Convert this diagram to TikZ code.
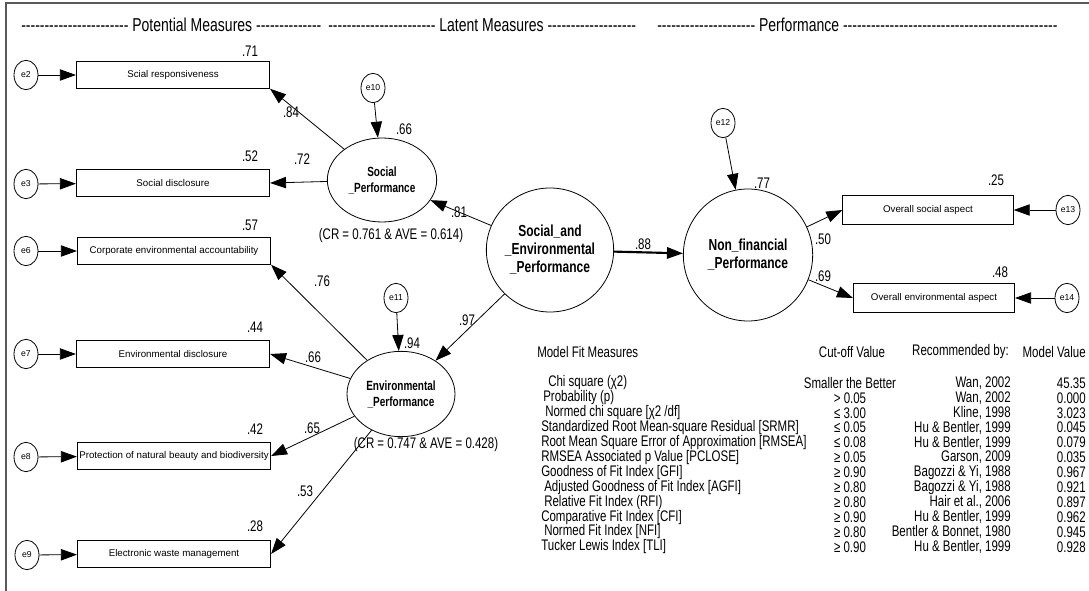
\documentclass[tikz,border=0pt]{standalone}
\usepackage{fontspec}
\setmainfont{Liberation Sans}
\newfontfamily\narrowfont[FakeStretch=0.75,Ligatures=TeXOff]{Liberation Sans}
\usepackage{tikz}
\usetikzlibrary{shapes.geometric, arrows.meta, positioning}
\definecolor{framegray}{rgb}{0.35,0.35,0.35}

\begin{document}
\begin{tikzpicture}[x=0.75pt, y=-0.75pt,
    errvar/.style={ellipse, draw, line width=0.6pt, minimum width=18pt, minimum height=22pt, inner sep=0pt, font=\fontsize{6.5}{7}\selectfont},
    indicator/.style={rectangle, draw, line width=0.6pt, minimum width=145pt, minimum height=20pt, inner sep=1pt, font=\fontsize{7.3}{9}\selectfont},
    latent/.style={ellipse, draw, line width=0.6pt, align=center, inner sep=0pt, font=\narrowfont\bfseries\fontsize{10}{12}\selectfont},
    biglatent/.style={latent, font=\narrowfont\bfseries\fontsize{12}{13.5}\selectfont},
    coef/.style={inner sep=0pt, font=\narrowfont\fontsize{11.5}{12}\selectfont},
    fittext/.style={inner sep=0pt, font=\narrowfont\fontsize{11.5}{12}\selectfont},
    headtext/.style={inner sep=0pt, anchor=west, font=\narrowfont\fontsize{14}{15}\selectfont},
    regpath/.style={-{Triangle[length=12pt,width=8.5pt]}, line width=0.6pt}]
    \useasboundingbox (0,0) rectangle (1089,591);
    % frame
    \draw[framegray, line width=1.5pt] (6,591) -- (6,3) -- (1089,3);
    % section headers
    \node[headtext] (hpot) at (21,25) {----------------------- Potential Measures --------------};
    \node[headtext] (hlat) at (328,25) {----------------------- Latent Measures -------------------};
    \node[headtext] (hperf) at (657,25) {--------------------- Performance ----------------------------------------------};
    % indicators with error terms
    \node[indicator] (sr) at (173,75) {Scial responsiveness};
    \node[indicator] (sd) at (173,183) {Social disclosure};
    \node[indicator] (cea) at (174,251) {Corporate environmental accountability};
    \node[indicator] (ed) at (173,354) {Environmental disclosure};
    \node[indicator] (pnb) at (174,456) {Protection of natural beauty and biodiversity};
    \node[indicator] (ewm) at (174,554) {Electronic waste management};
    \node[errvar] (e2) at (26,75) {e2};
    \node[errvar] (e3) at (26,184) {e3};
    \node[errvar] (e6) at (26,251) {e6};
    \node[errvar] (e7) at (26,354) {e7};
    \node[errvar] (e8) at (26,457) {e8};
    \node[errvar] (e9) at (27,555) {e9};
    \foreach \e/\m in {e2/sr, e3/sd, e6/cea, e7/ed, e8/pnb, e9/ewm}
        \draw[regpath] (\e) -- (\m);
    % latent constructs
    \node[latent, minimum width=82pt, minimum height=63pt] (sp) at (382,180) {Social\\\_Performance};
    \node[latent, minimum width=81pt, minimum height=64pt] (ep) at (401,394) {Environmental\\\_Performance};
    \node[biglatent, minimum width=93pt, minimum height=93pt] (sep) at (550,250) {Social\_and\\\_Environmental\\\_Performance};
    \node[biglatent, minimum width=97pt, minimum height=99pt] (nfp) at (748,255) {Non\_financial\\\_Performance};
    \node[errvar] (e10) at (373,88) {e10};
    \node[errvar] (e11) at (396,298) {e11};
    \node[errvar] (e12) at (723,123) {e12};
    \draw[regpath] (e10) -- (sp);
    \draw[regpath] (e11) -- (ep);
    \draw[regpath] (e12) -- (nfp);
    \node[fittext] (crsp) at (391,236) {(CR = 0.761 \& AVE = 0.614)};
    \node[fittext] (crep) at (426,445) {(CR = 0.747 \& AVE = 0.428)};
    % loadings
    \draw[regpath] (sp) -- (sr.south east);
    \draw[regpath] (sp) -- (sd.east);
    \draw[regpath] (ep) -- (cea.south east);
    \draw[regpath] (ep) -- (ed.east);
    \draw[regpath] (ep) -- (pnb.east);
    \draw[regpath] (ep) -- (ewm.east);
    \draw[regpath] (sep) -- (sp);
    \draw[regpath] (sep) -- (ep);
    \draw[regpath, line width=1.6pt] (sep) -- (nfp);
    % performance indicators
    \node[indicator, minimum width=128pt, minimum height=22pt] (osa) at (928,210) {Overall social aspect};
    \node[indicator, minimum width=121pt, minimum height=22pt] (oea) at (934,298) {Overall environmental aspect};
    \node[errvar] (e13) at (1068,210) {e13};
    \node[errvar] (e14) at (1067,298) {e14};
    \draw[regpath] (nfp) -- (osa.west);
    \draw[regpath] (nfp) -- (oea.west);
    \draw[regpath] (e13) -- (osa);
    \draw[regpath] (e14) -- (oea);
    % estimates
    \node[coef] (r2sr) at (250,51) {.71};
    \node[coef] (r2sd) at (250,156) {.52};
    \node[coef] (r2cea) at (250,225) {.57};
    \node[coef] (r2ed) at (255,327) {.44};
    \node[coef] (r2pnb) at (255,429) {.42};
    \node[coef] (r2ewm) at (255,526) {.28};
    \node[coef] (lsr) at (291,112) {.84};
    \node[coef] (lsd) at (302,159) {.72};
    \node[coef] (r2sp) at (404,129) {.66};
    \node[coef] (lsp) at (459,212) {.81};
    \node[coef] (lcea) at (322,281) {.76};
    \node[coef] (led) at (313,357) {.66};
    \node[coef] (r2ep) at (412,343) {.94};
    \node[coef] (lep) at (467,320) {.97};
    \node[coef] (lpnb) at (312,428) {.65};
    \node[coef] (lewm) at (305,491) {.53};
    \node[coef] (lnfp) at (643,244) {.88};
    \node[coef] (r2nfp) at (762,183) {.77};
    \node[coef] (losa) at (823,239) {.50};
    \node[coef] (loea) at (823,276) {.69};
    \node[coef] (r2osa) at (996,180) {.25};
    \node[coef] (r2oea) at (1000,272) {.48};
    % model fit table
    \node[fittext, anchor=west] (fmhead) at (537,352) {Model Fit Measures};
    \node[fittext] (fchead) at (852,352) {Cut-off Value};
    \node[fittext, anchor=east] (frhead) at (1009,352) {Recommended by:};
    \node[fittext, anchor=east] (fvhead) at (1086,352) {Model Value};
    \foreach \i/\ind/\name/\cut/\rec/\val in {
        0/7/{Chi square (χ2)}/{Smaller the Better}/{Wan, 2002}/45.35,
        1/2/{Probability (p)}/{> 0.05}/{Wan, 2002}/0.000,
        2/4/{Normed chi square [χ2 /df]}/{≤ 3.00}/{Kline, 1998}/3.023,
        3/0/{Standardized Root Mean-square Residual [SRMR]}/{≤ 0.05}/{Hu \& Bentler, 1999}/0.045,
        4/0/{Root Mean Square Error of Approximation [RMSEA]}/{≤ 0.08}/{Hu \& Bentler, 1999}/0.079,
        5/0/{RMSEA Associated p Value [PCLOSE]}/{≥ 0.05}/{Garson, 2009}/0.035,
        6/0/{Goodness of Fit Index [GFI]}/{≥ 0.90}/{Bagozzi \& Yi, 1988}/0.967,
        7/3/{Adjusted Goodness of Fit Index [AGFI]}/{≥ 0.80}/{Bagozzi \& Yi, 1988}/0.921,
        8/3/{Relative Fit Index (RFI)}/{≥ 0.80}/{Hair et al., 2006}/0.897,
        9/0/{Comparative Fit Index [CFI]}/{≥ 0.90}/{Hu \& Bentler, 1999}/0.962,
        10/3/{Normed Fit Index [NFI]}/{≥ 0.80}/{Bentler \& Bonnet, 1980}/0.945,
        11/0/{Tucker Lewis Index [TLI]}/{≥ 0.90}/{Hu \& Bentler, 1999}/0.928} {
        \node[fittext, anchor=west] (fm\i) at (541+\ind,383+14.9*\i) {\name};
        \node[fittext] (fc\i) at (850,383+14.9*\i) {\cut};
        \node[fittext, anchor=east] (fr\i) at (1011,383+14.9*\i) {\rec};
        \node[fittext, anchor=east] (fv\i) at (1086,383+14.9*\i) {\val};
    }
\end{tikzpicture}
\end{document}
